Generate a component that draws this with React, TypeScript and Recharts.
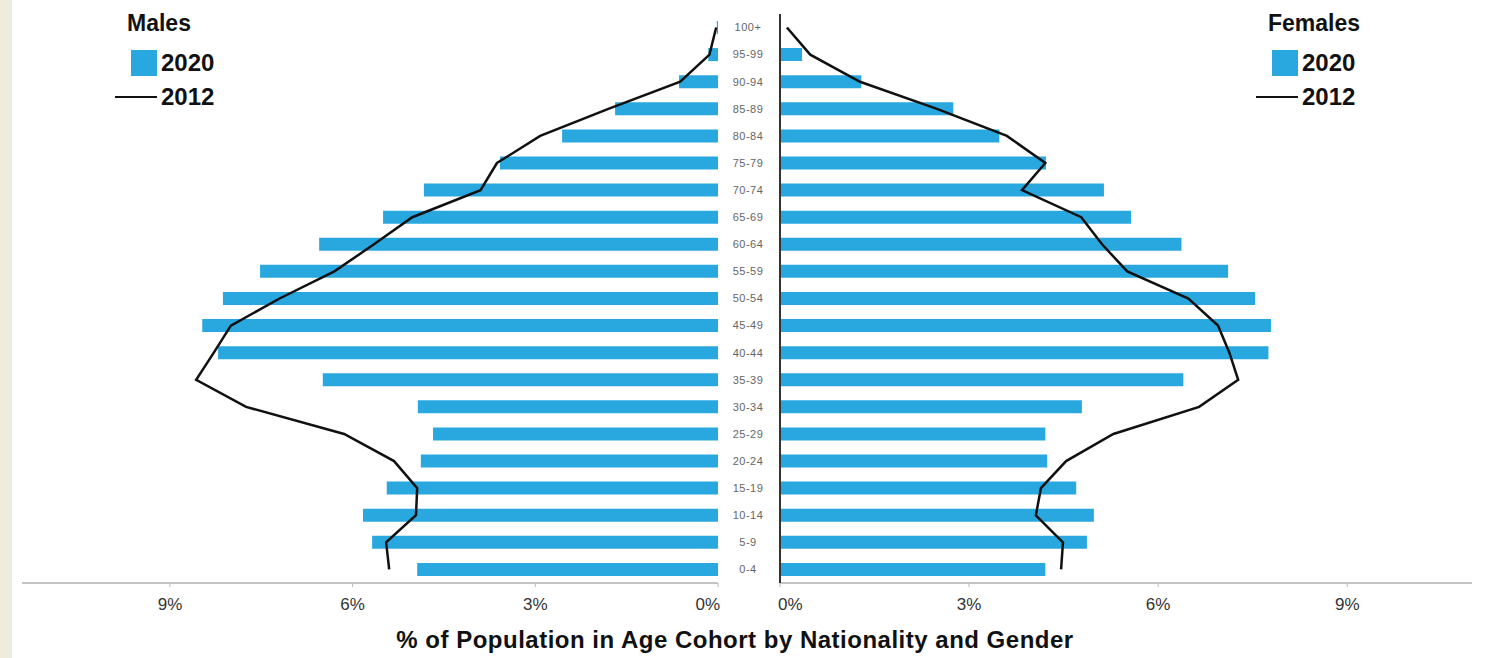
import React from "react";
import { ComposedChart, Bar, Line, XAxis, YAxis, Legend } from "recharts";

// age cohorts, bottom to top
const ageGroups = [
  "0-4", "5-9", "10-14", "15-19", "20-24", "25-29", "30-34", "35-39", "40-44", "45-49",
  "50-54", "55-59", "60-64", "65-69", "70-74", "75-79", "80-84", "85-89", "90-94", "95-99", "100+",
];

const males2020 = [
  4.94, 5.68, 5.83, 5.44, 4.88, 4.68, 4.93, 6.49, 8.21, 8.47,
  8.13, 7.52, 6.55, 5.5, 4.83, 3.58, 2.56, 1.69, 0.64, 0.16, 0.02,
];
const males2012 = [
  5.4, 5.45, 4.96, 4.94, 5.32, 6.14, 7.75, 8.57, 8.28, 8.0,
  7.2, 6.3, 5.65, 5.02, 3.9, 3.63, 2.92, 1.8, 0.62, 0.14, 0.03,
];
const females2020 = [
  4.21, 4.87, 4.98, 4.7, 4.24, 4.21, 4.79, 6.4, 7.75, 7.79,
  7.54, 7.11, 6.37, 5.57, 5.14, 4.22, 3.48, 2.75, 1.29, 0.35, 0.0,
];
const females2012 = [
  4.46, 4.49, 4.06, 4.14, 4.54, 5.29, 6.65, 7.27, 7.13, 6.95,
  6.48, 5.51, 5.11, 4.78, 3.84, 4.21, 3.6, 2.49, 1.27, 0.48, 0.11,
];
const percentTicks = [0, 3, 6, 9];

const maleData = ageGroups.map((age, i) => ({ age, v2020: males2020[i], v2012: males2012[i] }));
const femaleData = ageGroups.map((age, i) => ({ age, v2020: females2020[i], v2012: females2012[i] }));

const FONT = "'Liberation Sans', Arial, sans-serif";
const BLUE = "#29a8e0";

const PctTick = (props: any) => {
  const { x, y, payload, side } = props;
  let anchor = "middle";
  let tx = x;
  if (payload.value === 0) {
    anchor = side === "left" ? "end" : "start";
    tx = side === "left" ? x + 2 : x - 2;
  }
  return (
    <text x={tx} y={y} dy="0.71em" textAnchor={anchor} fontSize={17} fontFamily={FONT} fill="#333">
      {payload.value + "%"}
    </text>
  );
};

const AgeTick = (props: any) => {
  const { x, y, payload } = props;
  return (
    <text x={x - 24} y={y} dy="0.35em" textAnchor="middle" fontSize={11} letterSpacing={0.5}
      fontFamily={FONT} fill="#666">
      {payload.value}
    </text>
  );
};

const legendContent = (title: string) => (props: any) => {
  const items = [...(props.payload || [])].sort((a: any, b: any) =>
    (a.type === "line" ? 1 : 0) - (b.type === "line" ? 1 : 0));
  return (
    <div style={{ fontFamily: FONT, fontWeight: 700, color: "#111", textAlign: "left" }}>
      <div style={{ fontSize: 23, lineHeight: "26px", height: 36, marginLeft: 16 }}>{title}</div>
      {items.map((entry: any) => (
        <div key={entry.value} style={{ display: "flex", alignItems: "center", height: 34 }}>
          <div style={{ width: 46, display: "flex", justifyContent: "flex-end" }}>
            {entry.type === "line" ? (
              <span style={{ width: 42, height: 2, background: "#111", display: "block" }} />
            ) : (
              <span style={{ width: 26, height: 26, background: entry.color, display: "block" }} />
            )}
          </div>
          <span style={{ fontSize: 24, marginLeft: 4 }}>{entry.value}</span>
        </div>
      ))}
    </div>
  );
};

export default function App() {
  return (
    <div style={{ position: "absolute", left: 0, top: 0, width: 1486, height: 658, background: "#fff", overflow: "hidden" }}>
      <div style={{ position: "absolute", left: 0, top: 0, width: 12, height: 658, background: "#eeecdc" }} />

      <div style={{ position: "absolute", left: 0, top: 0 }}>
        <ComposedChart layout="vertical" width={720} height={658} data={maleData}
          margin={{ top: 14, right: 2, bottom: 35, left: 22 }}>
          <XAxis type="number" domain={[0, 11.43]} ticks={percentTicks} reversed allowDataOverflow
            interval={0} axisLine={{ stroke: "#c4c4c4", strokeWidth: 2 }} tickLine={{ stroke: "#bbb" }}
            tickSize={4} tickMargin={11} height={40} tick={<PctTick side="left" />} />
          <YAxis type="category" dataKey="age" reversed orientation="right" width={0}
            tick={false} tickLine={false} axisLine={{ stroke: "#333", strokeWidth: 2 }} />
          <Bar dataKey="v2020" name="2020" fill={BLUE} barSize={13} isAnimationActive={false} />
          <Line dataKey="v2012" name="2012" type="linear" stroke="#111" strokeWidth={2.5}
            dot={false} isAnimationActive={false} />
          <Legend layout="vertical" align="center" verticalAlign="middle"
            content={legendContent("Males")}
            wrapperStyle={{ position: "absolute", left: 111, top: 10, width: 130 }} />
        </ComposedChart>
      </div>

      <div style={{ position: "absolute", left: 720, top: 0 }}>
        <ComposedChart layout="vertical" width={766} height={658} data={femaleData}
          margin={{ top: 14, right: 14, bottom: 35, left: 0 }}>
          <XAxis type="number" domain={[0, 10.98]} ticks={percentTicks} allowDataOverflow
            interval={0} axisLine={{ stroke: "#c4c4c4", strokeWidth: 2 }} tickLine={{ stroke: "#bbb" }}
            tickSize={4} tickMargin={11} height={40} tick={<PctTick side="right" />} />
          <YAxis type="category" dataKey="age" reversed width={60} interval={0}
            tick={<AgeTick />} tickLine={false} axisLine={{ stroke: "#333", strokeWidth: 2 }} />
          <Bar dataKey="v2020" name="2020" fill={BLUE} barSize={13} isAnimationActive={false} />
          <Line dataKey="v2012" name="2012" type="linear" stroke="#111" strokeWidth={2.5}
            dot={false} isAnimationActive={false} />
          <Legend layout="vertical" align="center" verticalAlign="middle"
            content={legendContent("Females")}
            wrapperStyle={{ position: "absolute", left: 532, top: 10, width: 130 }} />
        </ComposedChart>
      </div>

      <div style={{ position: "absolute", left: 0, top: 627, width: 1470, textAlign: "center",
        fontFamily: FONT, fontWeight: 700, fontSize: 24, letterSpacing: 0.5, lineHeight: "26px", color: "#111" }}>
        % of Population in Age Cohort by Nationality and Gender
      </div>
    </div>
  );
}
